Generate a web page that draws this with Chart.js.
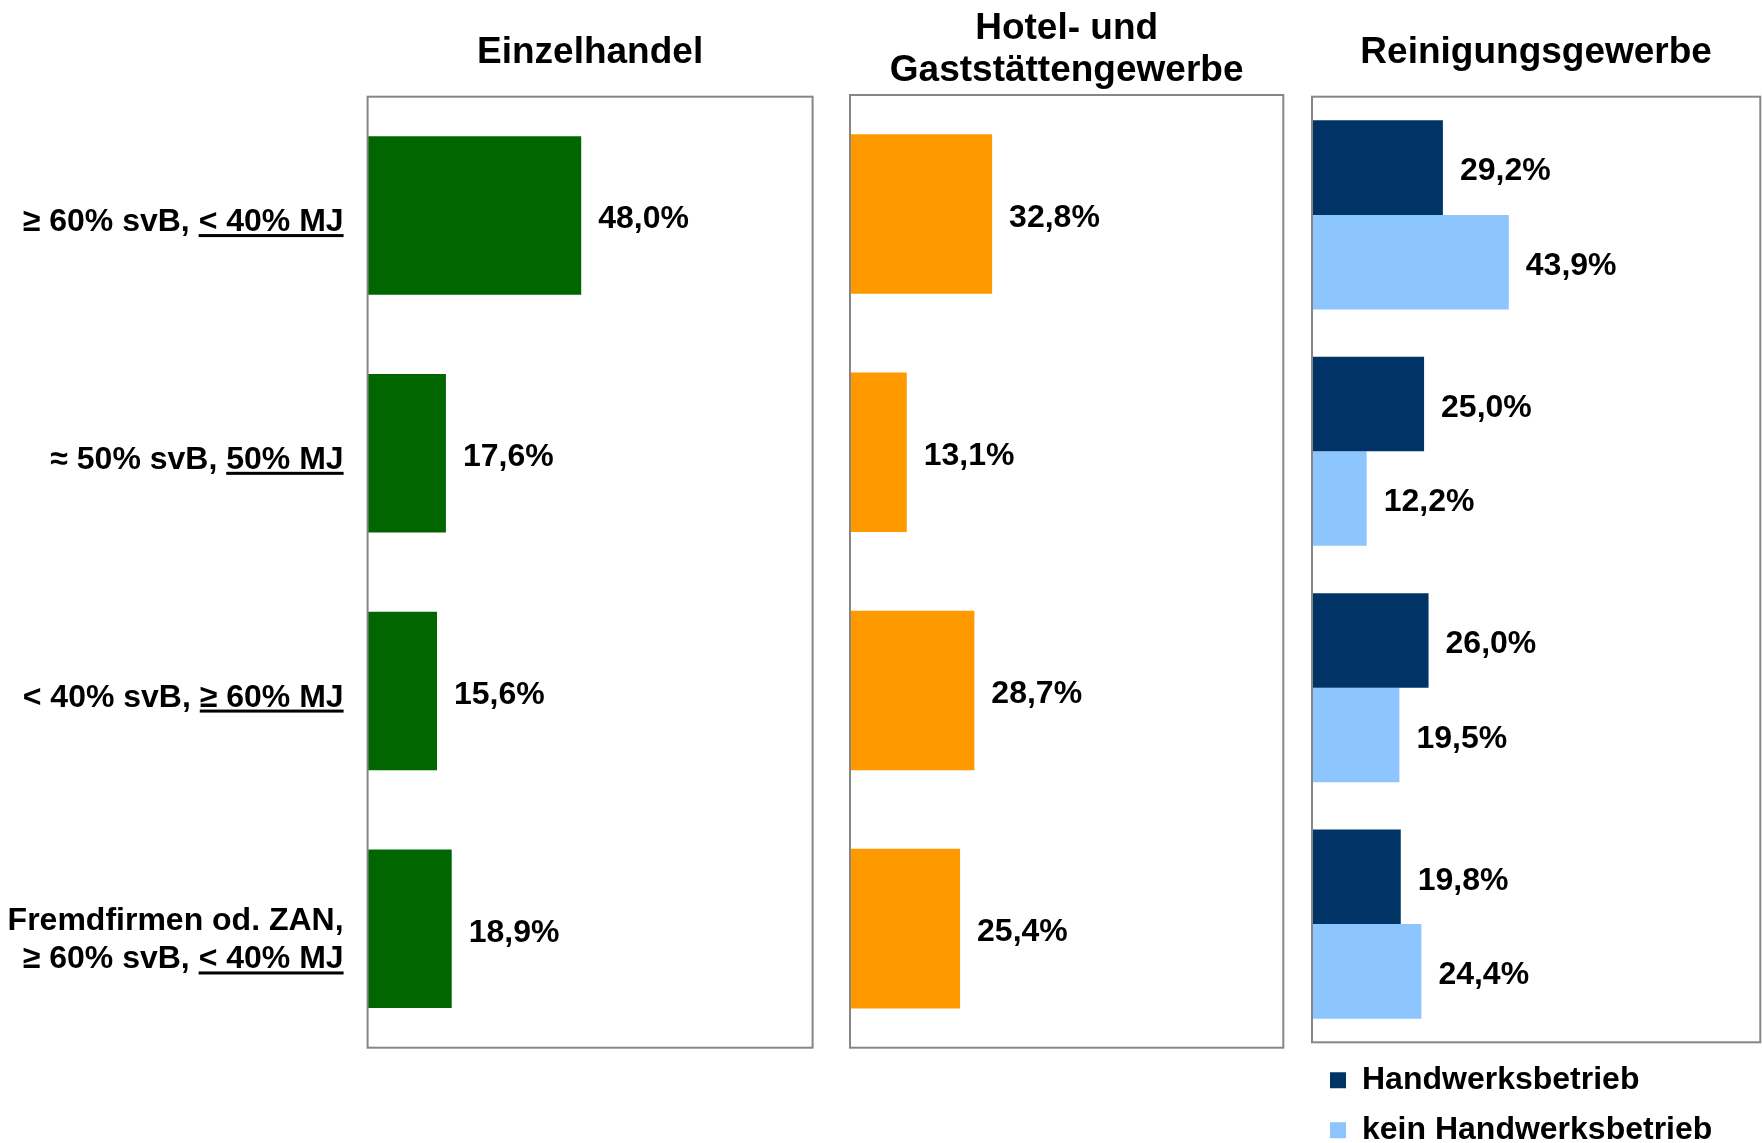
<!DOCTYPE html>
<html><head><meta charset="utf-8">
<script src="https://cdn.jsdelivr.net/npm/chart.js@4/dist/chart.umd.min.js"></script>
<style>
html,body{margin:0;padding:0;background:#fff;overflow:hidden;width:1762px;height:1143px;}
.panel{position:absolute;top:0;}
canvas{display:block;}
</style></head><body>
<div class="panel" style="left:0px"><canvas id="c1" width="830" height="1143"></canvas></div>
<div class="panel" style="left:830px"><canvas id="c2" width="470" height="1143"></canvas></div>
<div class="panel" style="left:1300px"><canvas id="c3" width="462" height="1143"></canvas></div>
<script>
// ---- data ----
const categoryLead = ["", "", "", "Fremdfirmen od. ZAN,"];
const categoryMain = ["≥ 60% svB, ", "≈ 50% svB, ", "< 40% svB, ", "≥ 60% svB, "];
const categoryUnderlined = ["< 40% MJ", "50% MJ", "≥ 60% MJ", "< 40% MJ"];
const categories = categoryMain.map((m, i) => (categoryLead[i] ? categoryLead[i] + " " : "") + m + categoryUnderlined[i]);
const titleEinzelhandel = "Einzelhandel";
const titleHotel = ["Hotel- und", "Gaststättengewerbe"];
const titleReinigung = "Reinigungsgewerbe";
const einzelhandel = [48.0, 17.6, 15.6, 18.9];
const hotel = [32.8, 13.1, 28.7, 25.4];
const handwerk = [29.2, 25.0, 26.0, 19.8];
const keinHandwerk = [43.9, 12.2, 19.5, 24.4];
const seriesNames = ["Handwerksbetrieb", "kein Handwerksbetrieb"];
const axisMin = 0, axisMax = 100;

// ---- styling ----
const FONT = "'Liberation Sans', Arial, Helvetica, sans-serif";
Chart.defaults.font.family = FONT;
Chart.defaults.color = '#000';
Chart.defaults.animation = false;

const fmt = v => v.toFixed(1).replace('.', ',') + '%';

const framePlugin = {
  id: 'frame',
  afterDatasetsDraw(chart) {
    const {ctx, chartArea: a} = chart;
    ctx.save();
    ctx.strokeStyle = '#868686';
    ctx.lineWidth = 2;
    ctx.strokeRect(a.left, a.top, a.right - a.left, a.bottom - a.top);
    ctx.restore();
  }
};

const valueLabelPlugin = {
  id: 'valueLabels',
  afterDatasetsDraw(chart) {
    const ctx = chart.ctx;
    ctx.save();
    ctx.font = "bold 32px " + FONT;
    ctx.fillStyle = '#000';
    ctx.textAlign = 'left';
    ctx.textBaseline = 'middle';
    chart.data.datasets.forEach((ds, di) => {
      const meta = chart.getDatasetMeta(di);
      meta.data.forEach((bar, i) => {
        ctx.fillText(fmt(ds.data[i]), bar.x + 17, bar.y + 4);
      });
    });
    ctx.restore();
  }
};

const categoryLabelPlugin = {
  id: 'categoryLabels',
  afterDraw(chart) {
    const ys = chart.scales.y;
    const ctx = chart.ctx;
    const right = chart.chartArea.left - 24;
    ctx.save();
    ctx.font = "bold 32px " + FONT;
    ctx.fillStyle = '#000';
    ctx.textAlign = 'right';
    ctx.textBaseline = 'alphabetic';
    categories.forEach((c, i) => {
      const cy = ys.getPixelForValue(i);
      const lines = categoryLead[i] ? [categoryLead[i], null] : [null];
      const n = lines.length;
      lines.forEach((ln, j) => {
        const base = cy + 15.5 + (j - (n - 1) / 2) * 38.3 + (n - 1) * 5;
        if (ln) {
          ctx.fillText(ln, right, base);
        } else {
          const uw = ctx.measureText(categoryUnderlined[i]).width;
          ctx.fillText(categoryUnderlined[i], right, base);
          ctx.fillText(categoryMain[i], right - uw, base);
          ctx.fillRect(right - uw, base + 3, uw, 3);
        }
      });
    });
    ctx.restore();
  }
};

const hiddenScales = {
  x: {min: axisMin, max: axisMax, display: false},
  y: {display: false}
};

function titleOpts(text, lineHeight, padTop, padBottom) {
  return {
    display: true, text: text, color: '#000',
    font: {size: 37, weight: 'bold', lineHeight: lineHeight},
    padding: {top: padTop, bottom: padBottom}
  };
}

// Einzelhandel
new Chart(document.getElementById('c1'), {
  type: 'bar',
  data: {labels: categories, datasets: [{label: titleEinzelhandel, data: einzelhandel, backgroundColor: '#006600', borderWidth: 0, categoryPercentage: 0.667, barPercentage: 1.0}]},
  options: {
    indexAxis: 'y', responsive: false, animation: false,
    layout: {padding: {left: 367.6, right: 17.4, top: 0, bottom: 95.3}},
    scales: hiddenScales,
    plugins: {legend: {display: false}, tooltip: {enabled: false}, title: titleOpts(titleEinzelhandel, 1.2, 30.2, 22.1)}
  },
  plugins: [framePlugin, valueLabelPlugin, categoryLabelPlugin]
});

// Hotel- und Gaststättengewerbe
new Chart(document.getElementById('c2'), {
  type: 'bar',
  data: {labels: categories, datasets: [{label: titleHotel.join(' '), data: hotel, backgroundColor: '#FF9900', borderWidth: 0, categoryPercentage: 0.67, barPercentage: 1.0}]},
  options: {
    indexAxis: 'y', responsive: false, animation: false,
    layout: {padding: {left: 20, right: 16.7, top: 0, bottom: 95.3}},
    scales: hiddenScales,
    plugins: {legend: {display: false}, tooltip: {enabled: false}, title: titleOpts(titleHotel, 1.154, 7.15, 2.45)}
  },
  plugins: [framePlugin, valueLabelPlugin]
});

// Reinigungsgewerbe
new Chart(document.getElementById('c3'), {
  type: 'bar',
  data: {labels: categories, datasets: [
    {label: seriesNames[0], data: handwerk, backgroundColor: '#003366', borderWidth: 0, categoryPercentage: 0.8, barPercentage: 1.0},
    {label: seriesNames[1], data: keinHandwerk, backgroundColor: '#8DC5FF', borderWidth: 0, categoryPercentage: 0.8, barPercentage: 1.0}
  ]},
  options: {
    indexAxis: 'y', responsive: false, animation: false,
    layout: {padding: {left: 12, right: 1.7, top: 0, bottom: 0}},
    scales: hiddenScales,
    plugins: {
      tooltip: {enabled: false},
      title: titleOpts(titleReinigung, 1.2, 30.2, 22.1),
      legend: {
        display: true, position: 'bottom', align: 'start', maxHeight: 100.7,
        title: {display: true, text: '', font: {size: 4, lineHeight: 1}, padding: 0},
        labels: {boxWidth: 16, boxHeight: 16, padding: 18, color: '#000', font: {size: 32, weight: 'bold'}}
      }
    }
  },
  plugins: [framePlugin, valueLabelPlugin]
});
</script>
</body></html>
